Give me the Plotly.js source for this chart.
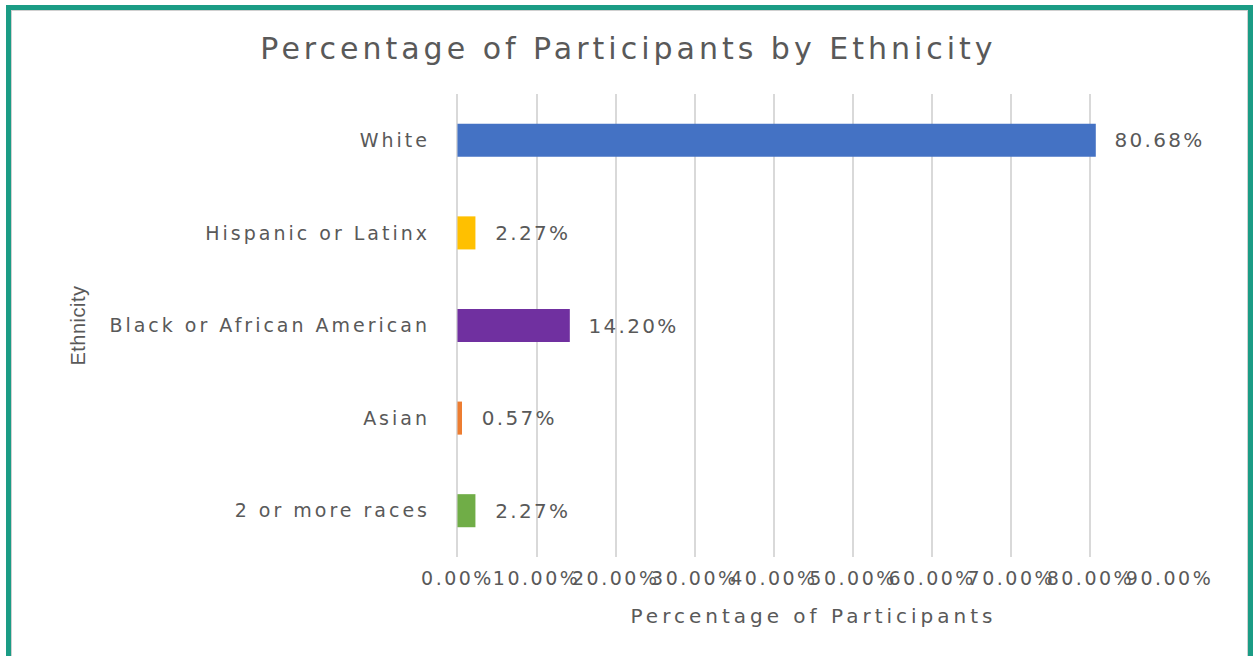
<!DOCTYPE html>
<html>
<head>
<meta charset="utf-8">
<script src="https://cdn.plot.ly/plotly-3.0.1.min.js"></script>
<style>
  html, body { margin: 0; padding: 0; background: #ffffff; }
  #wrap { position: relative; width: 1257px; height: 656px; overflow: hidden; }
  #chart { position: absolute; left: 0; top: 0; width: 1257px; height: 656px; }
  #frame { position: absolute; left: 6px; top: 5px; width: 1247px; height: 700px;
           border: 5px solid #1B9C85; box-sizing: border-box; pointer-events: none; }
  #inner { position: absolute; left: 11px; top: 10px; width: 1237px; height: 700px;
           border: 1px solid #D0D0D0; box-sizing: border-box; pointer-events: none; }
  #chart .gtitle { letter-spacing: 4px; }
  #chart .ytick text { letter-spacing: 3px; }
  #chart .xtick text { letter-spacing: 2.5px; }
  #chart .xtitle { letter-spacing: 4px; }
  #chart .ytitle { letter-spacing: 0.5px; }
  #chart text.bartext { letter-spacing: 2.3px; }
</style>
</head>
<body>
<div id="wrap">
  <div id="chart"></div>
  <div id="frame"></div>
  <div id="inner"></div>
</div>
<script>
// Data
const categories = ['White', 'Hispanic or Latinx', 'Black or African American', 'Asian', '2 or more races'];
const percentages = [0.8068, 0.0227, 0.1420, 0.0057, 0.0227];
const tickValues = [0, 0.1, 0.2, 0.3, 0.4, 0.5, 0.6, 0.7, 0.8, 0.9];
const tickLabels = ['0.00%', '10.00%', '20.00%', '30.00%', '40.00%', '50.00%', '60.00%', '70.00%', '80.00%', '90.00%'];

// Styles
const barColors = ['#4472C4', '#FFC000', '#7030A0', '#ED7D31', '#70AD47'];
const textGray = '#595959';
const gridGray = '#D9D9D9';
const fontFamily = '"DejaVu Sans", Verdana, sans-serif';

const trace = {
  type: 'bar',
  orientation: 'h',
  y: categories,
  x: percentages,
  marker: { color: barColors },
  texttemplate: '\u00a0\u00a0\u00a0%{x:.2%}',
  textposition: 'outside',
  cliponaxis: false,
  textfont: { family: fontFamily, size: 20, color: textGray },
  hoverinfo: 'skip'
};

const layout = {
  width: 1257,
  height: 656,
  margin: { l: 457, r: 87, t: 94, b: 99 },
  paper_bgcolor: '#ffffff',
  plot_bgcolor: '#ffffff',
  showlegend: false,
  bargap: 0.643,
  title: {
    text: 'Percentage of Participants by Ethnicity',
    x: 0.5, xref: 'container', xanchor: 'center',
    y: 1 - 48 / 656, yref: 'container', yanchor: 'middle',
    font: { family: fontFamily, size: 30, color: textGray }
  },
  xaxis: {
    range: [-0.0006, 0.9006],
    tickmode: 'array',
    tickvals: tickValues,
    ticktext: tickLabels,
    tickangle: 0,
    showgrid: true,
    gridcolor: gridGray,
    gridwidth: 2,
    zeroline: true,
    zerolinecolor: gridGray,
    zerolinewidth: 2,
    showline: false,
    ticks: '',
    ticklabelstandoff: 8,
    tickfont: { family: fontFamily, size: 19, color: textGray },
    title: {
      text: 'Percentage of Participants',
      standoff: 20,
      font: { family: fontFamily, size: 20, color: textGray }
    },
    fixedrange: true
  },
  yaxis: {
    type: 'category',
    categoryorder: 'array',
    categoryarray: categories,
    autorange: 'reversed',
    showgrid: false,
    zeroline: false,
    showline: false,
    ticks: '',
    ticklabelstandoff: 26,
    tickfont: { family: fontFamily, size: 19, color: textGray },
    title: {
      text: 'Ethnicity',
      standoff: 93,
      font: { family: '"Liberation Sans Narrow", "Liberation Sans", sans-serif', size: 20, color: textGray }
    },
    fixedrange: true
  }
};

Plotly.newPlot('chart', [trace], layout, { displayModeBar: false, staticPlot: true });
</script>
</body>
</html>
